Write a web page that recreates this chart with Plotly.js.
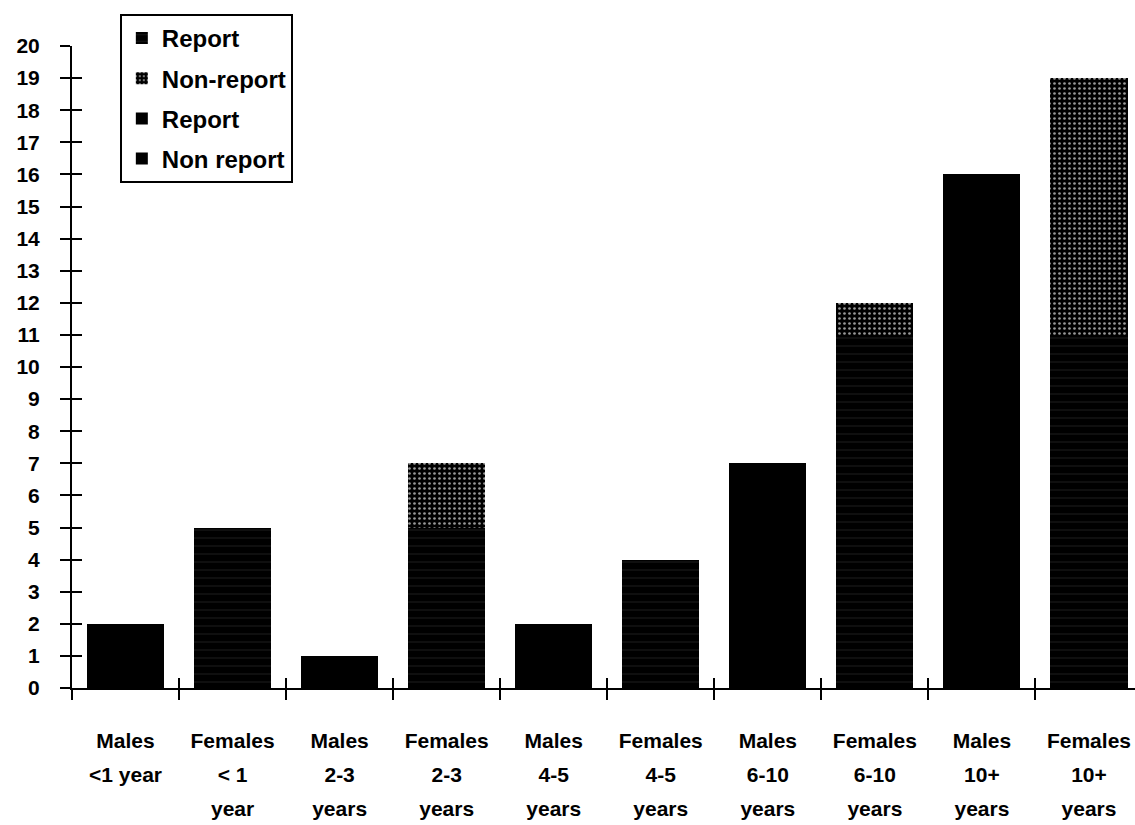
<!DOCTYPE html>
<html>
<head>
<meta charset="utf-8">
<script src="https://cdn.plot.ly/plotly-3.0.1.min.js"></script>
<style>
html,body{margin:0;padding:0;background:#fff;}
#chart{width:1135px;height:825px;}
</style>
</head>
<body>
<div id="chart"></div>
<script>
// ---- data ----
const categories = ["Males <1 year", "Females < 1 year", "Males 2-3 years", "Females 2-3 years",
  "Males 4-5 years", "Females 4-5 years", "Males 6-10 years", "Females 6-10 years",
  "Males 10+ years", "Females 10+ years"];
const labelLine1 = ["Males", "Females", "Males", "Females", "Males", "Females", "Males", "Females", "Males", "Females"];
const labelLine2 = ["&lt;1 year", "&lt; 1", "2-3", "2-3", "4-5", "4-5", "6-10", "6-10", "10+", "10+"];
const labelLine3 = ["", "year", "years", "years", "years", "years", "years", "years", "years", "years"];
const femaleReport    = [0, 5, 0, 5, 0, 4, 0, 11, 0, 11];
const femaleNonReport = [0, 0, 0, 2, 0, 0, 0, 1, 0, 8];
const maleReport      = [2, 0, 1, 0, 2, 0, 7, 0, 16, 0];
const maleNonReport   = [0, 0, 0, 0, 0, 0, 0, 0, 0, 0];
const seriesNames = ["Report", "Non-report", "Report", "Non report"];
const yTicks = [0,1,2,3,4,5,6,7,8,9,10,11,12,13,14,15,16,17,18,19,20];

const idx = categories.map((_, i) => i);
const bounds = categories.map((_, i) => i - 0.5);

const FONT = "Liberation Sans, Arial, sans-serif";

function bar(name, y, pattern, grp) {
  return {
    type: "bar", x: categories, y: y, name: name, legendgroup: grp,
    marker: {color: "#000000", line: {width: 0}, pattern: pattern},
    hoverinfo: "skip"
  };
}

// invisible helper traces so that the overlay axes (crossing ticks, label lines) are drawn
function helper(xa, ya, xs) {
  return {
    type: "scatter", mode: "markers", x: xs, y: xs.map(() => 0),
    xaxis: xa, yaxis: ya, marker: {opacity: 0, size: 1},
    showlegend: false, hoverinfo: "skip"
  };
}

const traces = [
  bar(seriesNames[0], femaleReport, {shape: "-", bgcolor: "#000000", fgcolor: "#ffffff", fgopacity: 0.12, size: 8, solidity: 0.12}, "g1"),
  bar(seriesNames[1], femaleNonReport, {shape: ".", bgcolor: "#000000", fgcolor: "#ffffff", fgopacity: 0.6, size: 5, solidity: 0.22}, "g2"),
  bar(seriesNames[2], maleReport, {shape: ""}, "g3"),
  bar(seriesNames[3], maleNonReport, {shape: ""}, "g4"),
  helper("x2", "y", idx),
  helper("x3", "y", idx),
  helper("x4", "y", idx),
  helper("x5", "y", idx),
  helper("x", "y2", categories)
];

const xr = [-0.5, 9.43];
const labelAxis = (vals, text, standoff) => ({
  type: "linear", overlaying: "x", anchor: "y", side: "bottom", range: xr,
  tickmode: "array", tickvals: vals, ticktext: text, ticks: "",
  showgrid: false, zeroline: false, showline: false,
  ticklabelstandoff: standoff,
  tickfont: {family: FONT, size: 21, color: "#000", weight: "bold"}
});

const layout = {
  width: 1135, height: 825,
  margin: {l: 72, r: 0, t: 46, b: 137, pad: 0},
  paper_bgcolor: "#ffffff", plot_bgcolor: "#ffffff",
  barmode: "stack", bargap: 0.28,
  showlegend: true,
  legend: {
    x: 0.045, xanchor: "left", y: 1.05, yanchor: "top",
    traceorder: "grouped", tracegroupgap: 6,
    bordercolor: "#000", borderwidth: 2, bgcolor: "#ffffff",
    font: {family: FONT, size: 24, color: "#000", weight: "bold"}
  },
  xaxis: {
    type: "category", range: xr, tickson: "boundaries",
    ticks: "outside", ticklen: 10, tickwidth: 2, tickcolor: "#000",
    showticklabels: false, showgrid: false, zeroline: false,
    showline: true, linecolor: "#000", linewidth: 2
  },
  xaxis2: {
    type: "linear", overlaying: "x", anchor: "y", side: "bottom", range: xr,
    tickmode: "array", tickvals: bounds, ticks: "inside", ticklen: 10, tickwidth: 2, tickcolor: "#000",
    showticklabels: false, showgrid: false, zeroline: false, showline: false
  },
  xaxis3: labelAxis(idx, labelLine1, 38),
  xaxis4: labelAxis(idx, labelLine2, 72),
  xaxis5: labelAxis(idx, labelLine3, 106),
  yaxis: {
    range: [0, 20], tickmode: "array", tickvals: yTicks,
    ticks: "outside", ticklen: 10, tickwidth: 2, tickcolor: "#000",
    showgrid: false, zeroline: false,
    showline: true, linecolor: "#000", linewidth: 2,
    ticklabelstandoff: 16,
    tickfont: {family: FONT, size: 21, color: "#000", weight: "bold"}
  },
  yaxis2: {
    overlaying: "y", anchor: "x", side: "left", range: [0, 20],
    tickmode: "array", tickvals: yTicks, ticks: "inside", ticklen: 10, tickwidth: 2, tickcolor: "#000",
    showticklabels: false, showgrid: false, zeroline: false, showline: false
  }
};

Plotly.newPlot("chart", traces, layout, {displayModeBar: false, staticPlot: true});
</script>
</body>
</html>
